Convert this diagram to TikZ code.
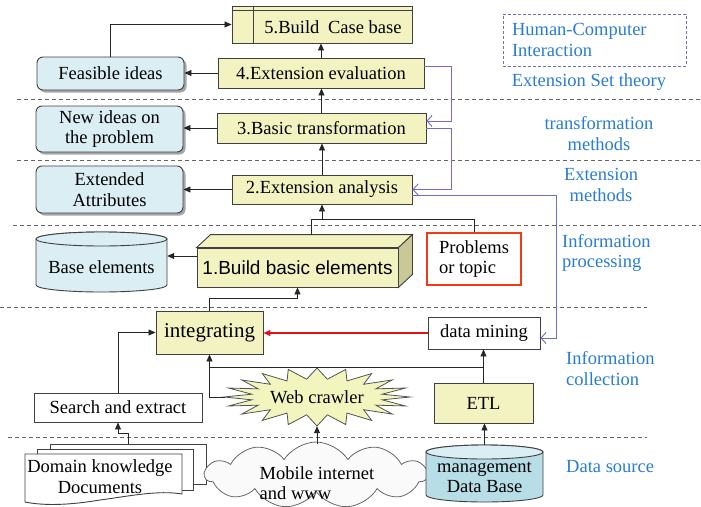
\documentclass[tikz,border=0pt]{standalone}
\usepackage{fontspec}
\setmainfont{Liberation Serif}
\setsansfont{Liberation Sans}
\usetikzlibrary{arrows.meta,shapes.symbols,shadows,calc}

\definecolor{boxyellow}{RGB}{243,243,194}
\definecolor{boxside}{RGB}{201,201,150}
\definecolor{boxblue}{RGB}{218,238,243}
\definecolor{dbbody}{RGB}{183,221,230}
\definecolor{edgegray}{RGB}{64,64,64}
\definecolor{labblue}{RGB}{40,125,210}
\definecolor{fbline}{RGB}{110,110,195}
\definecolor{probred}{RGB}{240,60,20}
\definecolor{arrred}{RGB}{220,20,20}
\definecolor{burst}{RGB}{242,246,190}
\definecolor{sepgray}{RGB}{100,100,100}

\begin{document}
\begin{tikzpicture}[x=1pt,y=1pt,
  every node/.style={font=\fontsize{18.5}{20.5}\selectfont, inner sep=0pt},
  ybox/.style={draw=edgegray, line width=0.9pt, fill=boxyellow},
  wbox/.style={draw=edgegray, line width=0.9pt, fill=white},
  rbox/.style={draw=edgegray, line width=0.9pt, fill=boxblue, rounded corners=6pt, align=center,
    drop shadow={shadow xshift=2.5pt, shadow yshift=-2.5pt, fill=black, opacity=0.35}},
  lab/.style={text=labblue, align=center},
  arr/.style={draw=black!85, line width=0.8pt, -{Triangle[length=7pt,width=6pt]}},
  redarr/.style={draw=arrred, line width=1.15pt, -{Triangle[length=7pt,width=6pt]}},
  ln/.style={draw=black!85, line width=0.8pt},
  fb/.style={draw=fbline, line width=0.9pt, -{Straight Barb[length=5pt,width=11pt]}},
  sep/.style={draw=sepgray, line width=0.8pt, dash pattern=on 4pt off 3pt},
  edge/.style={draw=edgegray, line width=0.9pt},
]
\useasboundingbox (0,0) rectangle (701,-506);

% layer separators
\draw[sep] (17,-99) -- (701,-99);
\draw[sep] (17,-160) -- (701,-160);
\draw[sep] (13,-225) -- (701,-225);
\draw[sep] (0,-307) -- (647,-307);
\draw[sep] (8,-437) -- (647,-437);

% ---- process steps ----
\node[ybox, minimum width=180, minimum height=37] (n5) at (322,-24.5) {};
\draw[edge] ($(n5.north west)+(0,-4.5)$) -- ($(n5.north east)+(0,-4.5)$)
            ($(n5.north west)+(22,0)$) -- ($(n5.south west)+(22,0)$);
\node (n5t) at (333,-27) {5.Build\hspace{4pt} Case base};

\node[ybox, minimum width=206, minimum height=30] (n4) at (321,-73) {4.Extension evaluation};
\node[ybox, minimum width=209, minimum height=30] (n3) at (321.5,-128) {3.Basic transformation};
\node[ybox, minimum width=180, minimum height=29] (n2) at (322,-189.5) {2.Extension analysis};

% 3D block for step 1
\node[ybox, minimum width=201, minimum height=39,
      font=\sffamily\fontsize{19}{21}\selectfont] (n1) at (297.5,-267.5) {1.Build basic elements};
\draw[edge, fill=boxyellow] (n1.north west) -- ++(14,13) -- ($(n1.north east)+(14,13)$) -- (n1.north east) -- cycle;
\draw[edge, fill=boxside] (n1.north east) -- ++(14,13) -- ($(n1.south east)+(14,13)$) -- (n1.south east) -- cycle;
\coordinate (n1top) at ($(n1.north west)+(115,13)$);

\node[draw=probred, line width=1.15pt, fill=white, minimum width=94, minimum height=52, align=left]
  (prob) at (474,-259) {Problems\\or topic};

% ---- results ----
\node[rbox, minimum width=147, minimum height=33] (feas) at (110.5,-73.5) {Feasible ideas};
\node[rbox, minimum width=147, minimum height=46] (newid) at (109.5,-129) {New ideas on\\the problem};
\node[rbox, minimum width=147, minimum height=47] (extat) at (109.5,-189.5) {Extended\\Attributes};

% base elements store
\path[edge, fill=boxblue] (36,-239) -- (36,-285)
  arc[start angle=180, end angle=360, x radius=65.5, y radius=7] -- (167,-239)
  arc[start angle=0, end angle=180, x radius=65.5, y radius=7] -- cycle;
\draw[edge, fill=boxblue] (101.5,-239) ellipse[x radius=65.5, y radius=7];
\node[minimum width=131] (base) at (101.5,-267) {Base elements};

% ---- connectors, upper part ----
\draw[arr] (n4.north) -- (n4.north |- n5.south);
\draw[arr] (n3.north) -- (n3.north |- n4.south);
\draw[arr] (n2.north) -- (n2.north |- n3.south);
\draw[arr] (n4.west) -- (n4.west -| feas.east);
\draw[arr] (n3.west) -- (n3.west -| newid.east);
\draw[arr] (n2.west) -- (n2.west -| extat.east);
\draw[arr] (feas.north) |- (n5.west);
\coordinate (n1l) at ([yshift=11.5pt]n1.west);
\draw[arr] (n1l) -- (n1l -| base.east);
\coordinate (merge) at ($(n1top)+(0,15)$);
\draw[ln] (n1top) -- (merge) -| (prob.north);
\draw[arr] (merge -| n2.south) -- (n2.south);

% feedback loops
\draw[fb] ([yshift=7pt]n4.east) -- ++(27,0) |- ([yshift=7pt]n3.east);
\draw[fb] (n3.east) -- ++(25,0) |- (n2.east);

% ---- information collection ----
\node[ybox, minimum width=107, minimum height=43, font=\fontsize{21}{23}\selectfont] (int) at (209.5,-332.5) {integrating};
\node[wbox, minimum width=112, minimum height=32] (dm) at (484,-333) {data mining};
\node[ybox, minimum width=99, minimum height=40] (etl) at (483.5,-403) {ETL};
\node[wbox, minimum width=168, minimum height=29] (search) at (118,-407.5) {Search and extract};

\begin{scope}[shift={(317,-397)}]
\draw[draw=edgegray!90, line width=0.8pt, fill=burst]
  (0:93pt and 29pt) \foreach \i in {1,...,19}{ -- ({\i*18-9}:66pt and 18pt) -- ({\i*18}:93pt and 29pt) }
  -- (351:66pt and 18pt) -- cycle;
\end{scope}
\node[minimum width=184, minimum height=58] (wc) at (317,-397) {Web crawler};

\draw[fb] ([yshift=-5.5pt]n2.east) -- ++(144,0) |- ([yshift=-5pt]dm.east);
\draw[redarr] (dm.west) -- (dm.west -| int.east);
\draw[arr] (int.north) -- ++(0,12) -| (n1.south);
\draw[arr] (search.north) |- (int.west);
\draw[arr] (etl.north) -- (etl.north |- dm.south);
\coordinate (etlj) at ($(etl.north)+(0,15)$);
\draw[ln] (etlj) -- (etlj -| int.south);
\draw[arr] (wc.west) -| (int.south);

% ---- data sources ----
\draw[edge, fill=white] (50,-444) rectangle (206,-484);
\draw[edge, fill=white] (37,-449) rectangle (193,-490);
\draw[edge, fill=white] (25,-454) -- (182,-454) -- (182,-494)
  .. controls (158,-490) and (130,-496) .. (100,-500)
  .. controls (70,-505) and (45,-506) .. (25,-502) -- cycle;
\node[align=center] (docs) at (100,-476.5) {Domain knowledge\\Documents};
\coordinate (docstop) at (128,-444);
\draw[arr] (docstop) -- ++(0,11) -| (search.south);

\node[cloud, cloud puffs=11, cloud puff arc=115, aspect=3.6, draw=edgegray!80, line width=0.8pt,
      fill=black!2, minimum width=222, minimum height=66] (cloud) at (316,-475) {};
\node[align=left] (mob) at (317,-483) {Mobile internet\\and www};
\coordinate (cloudtop) at (317,-444);
\draw[arr] (cloudtop) -- (cloudtop |- wc.south);

\path[edge, fill=dbbody] (426,-452) -- (426,-495)
  arc[start angle=180, end angle=360, x radius=58.5, y radius=7] -- (543,-452)
  arc[start angle=0, end angle=180, x radius=58.5, y radius=7] -- cycle;
\draw[edge, fill=boxblue] (484.5,-452) ellipse[x radius=58.5, y radius=7];
\node[align=center] (mdb) at (484.5,-477.5) {management\\Data Base};
\coordinate (mdbtop) at (484.5,-445);
\draw[arr] (mdbtop) -- (mdbtop |- etl.south);

% ---- layer captions ----
\node[draw=fbline, line width=0.8pt, dash pattern=on 3pt off 2pt, minimum width=183, minimum height=52,
      text width=165, inner xsep=9pt, align=left, text=labblue] (hci) at (594.5,-40) {Human-Computer\\Interaction};
\node[lab] (lest) at (589,-82) {Extension Set theory};
\node[lab] (ltm) at (599,-133.5) {transformation\\methods};
\node[lab] (lem) at (601,-185) {Extension\\methods};
\node[lab, anchor=west, align=left] (lip) at (562,-253) {Information\\processing};
\node[lab, anchor=west, align=left] (lic) at (566,-368.5) {Information\\collection};
\node[lab, anchor=west] (lds) at (566,-467) {Data source};
\end{tikzpicture}
\end{document}
